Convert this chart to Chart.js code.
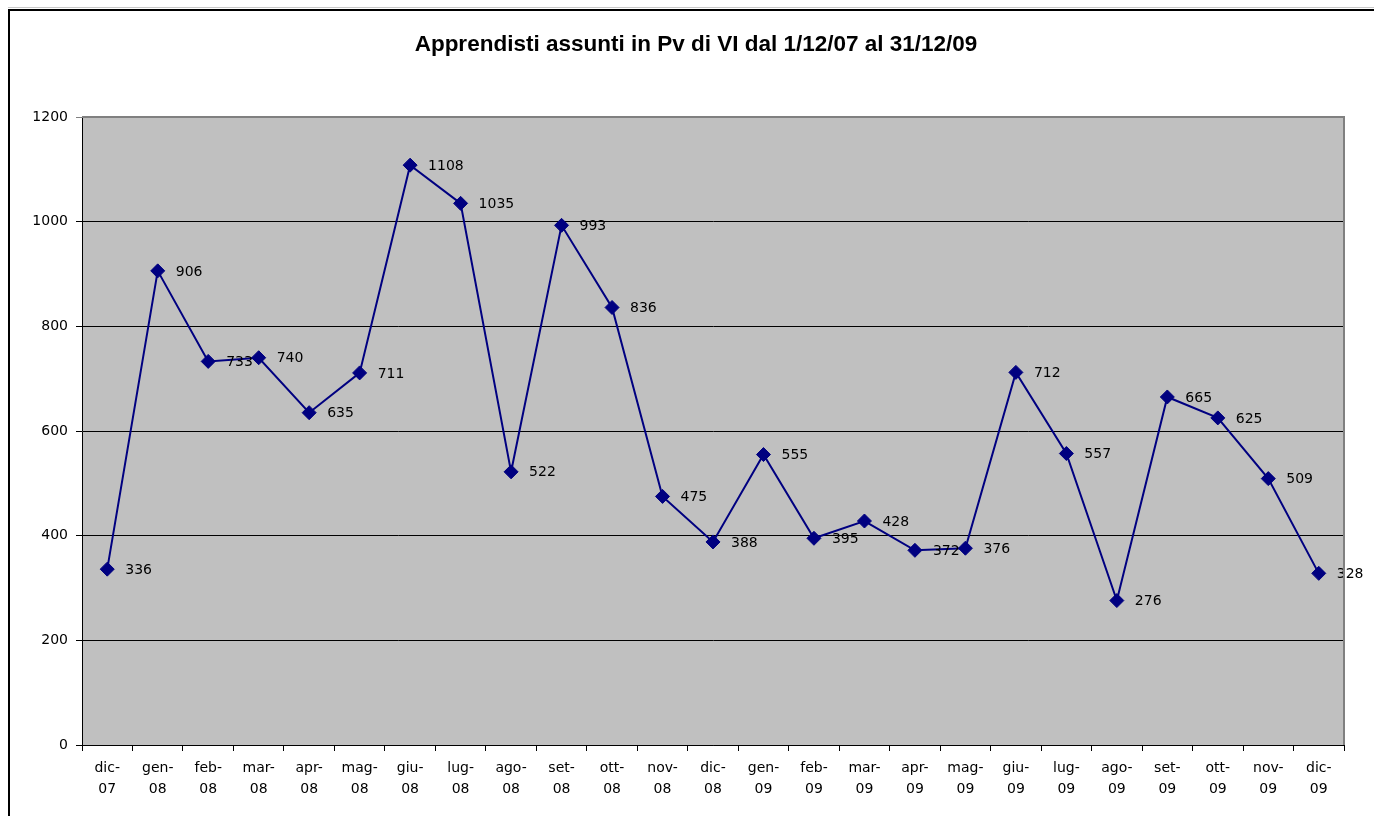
<!DOCTYPE html>
<html>
<head>
<meta charset="utf-8">
<script src="https://cdn.jsdelivr.net/npm/chart.js@4"></script>
<style>
  html, body { margin: 0; padding: 0; background: #fff; }
  #wrap { position: relative; width: 1374px; height: 816px; overflow: hidden; }
  #frame { position: absolute; left: 8px; top: 9px; width: 1500px; height: 900px;
           border-left: 2px solid #000; border-top: 2px solid #000; }
  #shade { position: absolute; left: 8px; top: 7px; width: 1500px; height: 1px; background: #c8c8c8; }
  canvas { position: absolute; left: 0; top: 0; }
</style>
</head>
<body>
<div id="wrap">
  <div id="shade"></div>
  <div id="frame"></div>
  <canvas id="apprendistiChart" width="1374" height="816"></canvas>
</div>
<script>
const mesi = [
  ["dic-", "07"], ["gen-", "08"], ["feb-", "08"], ["mar-", "08"], ["apr-", "08"],
  ["mag-", "08"], ["giu-", "08"], ["lug-", "08"], ["ago-", "08"], ["set-", "08"],
  ["ott-", "08"], ["nov-", "08"], ["dic-", "08"], ["gen-", "09"], ["feb-", "09"],
  ["mar-", "09"], ["apr-", "09"], ["mag-", "09"], ["giu-", "09"], ["lug-", "09"],
  ["ago-", "09"], ["set-", "09"], ["ott-", "09"], ["nov-", "09"], ["dic-", "09"]
];
const assunti = [336, 906, 733, 740, 635, 711, 1108, 1035, 522, 993, 836, 475, 388,
                 555, 395, 428, 372, 376, 712, 557, 276, 665, 625, 509, 328];
const titolo = "Apprendisti assunti in Pv di VI dal 1/12/07 al 31/12/09";
const yMin = 0, yMax = 1200, yStep = 200;

const FONT = "'DejaVu Sans', Verdana, sans-serif";

// sfondo grigio e bordo dell'area del grafico
const sfondoPlot = {
  id: 'sfondoPlot',
  beforeDraw(chart) {
    const { ctx, chartArea: a } = chart;
    ctx.save();
    ctx.fillStyle = '#c0c0c0';
    ctx.fillRect(a.left, a.top, a.right - a.left, a.bottom - a.top);
    ctx.restore();
  },
  afterDraw(chart) {
    const { ctx, chartArea: a } = chart;
    ctx.save();
    ctx.strokeStyle = '#808080';
    ctx.lineWidth = 2;
    ctx.beginPath();
    ctx.moveTo(a.left, a.top);
    ctx.lineTo(a.right, a.top);
    ctx.lineTo(a.right, a.bottom);
    ctx.stroke();
    ctx.restore();
  }
};

// titolo centrato sulla cornice esterna (non sull'area del grafico)
const titoloCentrato = {
  id: 'titoloCentrato',
  afterDraw(chart) {
    const { ctx } = chart;
    ctx.save();
    ctx.font = "bold 22.5px 'Liberation Sans', Arial, sans-serif";
    ctx.fillStyle = '#000';
    ctx.textAlign = 'center';
    ctx.textBaseline = 'middle';
    ctx.fillText(titolo, (8 + chart.chartArea.right + 40) / 2, 45);
    ctx.restore();
  }
};

// etichette dei valori a destra dei punti
const etichetteValori = {
  id: 'etichetteValori',
  afterDatasetsDraw(chart) {
    const { ctx } = chart;
    const meta = chart.getDatasetMeta(0);
    ctx.save();
    ctx.font = '14px ' + FONT;
    ctx.fillStyle = '#000';
    ctx.textAlign = 'left';
    ctx.textBaseline = 'middle';
    meta.data.forEach((p, i) => {
      ctx.fillText(String(assunti[i]), p.x + 18, p.y + 1);
    });
    ctx.restore();
  }
};

new Chart(document.getElementById('apprendistiChart'), {
  type: 'line',
  data: {
    labels: mesi,
    datasets: [{
      data: assunti,
      borderColor: '#000080',
      backgroundColor: '#000080',
      borderWidth: 2,
      pointStyle: 'rectRot',
      pointRadius: 7,
      pointBorderWidth: 1,
      tension: 0,
      fill: false
    }]
  },
  options: {
    responsive: false,
    animation: false,
    layout: { padding: { left: 8, right: 30, top: 117, bottom: 0 } },
    plugins: {
      legend: { display: false },
      tooltip: { enabled: false },
      title: { display: false }
    },
    scales: {
      x: {
        offset: true,
        afterFit(scale) { scale.height = 71; },
        grid: { drawOnChartArea: false, color: '#000', tickLength: 6, offset: true },
        border: { color: '#000', width: 1 },
        ticks: {
          color: '#000',
          font: { family: FONT, size: 14, lineHeight: 1.5 },
          padding: 7,
          maxRotation: 0,
          autoSkip: false
        }
      },
      y: {
        min: yMin,
        max: yMax,
        afterFit(scale) { scale.width = 74; },
        grid: {
          color: ctx => (ctx.tick && ctx.tick.value === yMax) ? '#808080' : '#000',
          lineWidth: 1,
          tickLength: 6
        },
        border: { color: '#000', width: 1 },
        ticks: {
          stepSize: yStep,
          color: '#000',
          font: { family: FONT, size: 14 },
          padding: 8,
          callback: v => String(v)
        }
      }
    }
  },
  plugins: [sfondoPlot, titoloCentrato, etichetteValori]
});
</script>
</body>
</html>
